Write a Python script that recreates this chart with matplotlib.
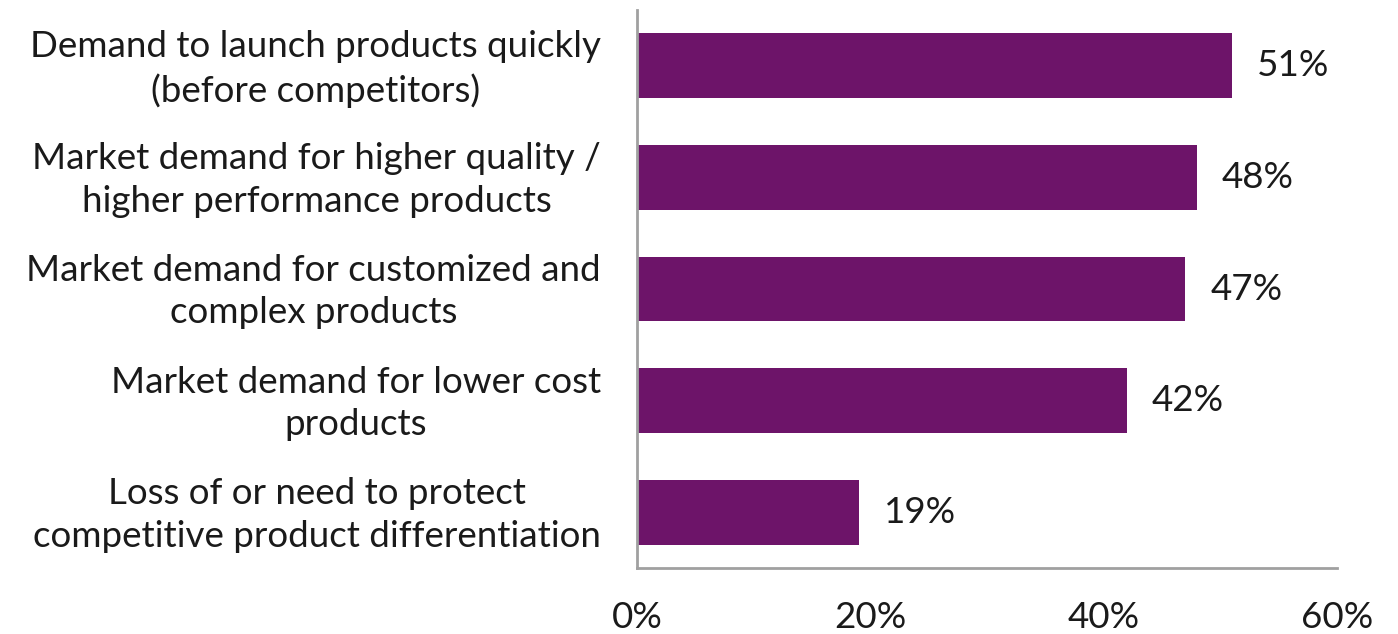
import matplotlib
matplotlib.use("Agg")
import matplotlib.pyplot as plt
import matplotlib.transforms as mtransforms

categories = [
    "Demand to launch products quickly\n(before competitors)",
    "Market demand for higher quality /\nhigher performance products",
    "Market demand for customized and\ncomplex products",
    "Market demand for lower cost\nproducts",
    "Loss of or need to protect\ncompetitive product differentiation",
]
values = [51, 48, 47, 42, 19]
xticks = [0, 20, 40, 60]
xtick_labels = ["0%", "20%", "40%", "60%"]

plt.rcParams['font.family'] = ['Lato', 'DejaVu Sans']
bar_color = "#6D1469"
text_color = "#1a1a1a"
fs = 26.5

fig = plt.figure(figsize=(13.98, 6.34), dpi=100)
ax = fig.add_axes([637/1398, 1-568/634, 700/1398, 558/634])

y = list(range(len(categories)))
ax.barh(y, values, height=0.58, color=bar_color)
ax.set_ylim(len(categories)-0.5, -0.5)
ax.set_xlim(0, 60)
ax.set_yticks(y)
ax.set_yticklabels(categories, fontsize=fs, color=text_color, multialignment='center', linespacing=1.35)
ax.set_xticks(xticks)
ax.set_xticklabels(xtick_labels, fontsize=fs, color=text_color)
ax.tick_params(axis='y', length=0, pad=26)
ax.tick_params(axis='x', length=0, pad=24)

shift = mtransforms.ScaledTranslation(0, 5/100, fig.dpi_scale_trans)
for lbl in ax.get_yticklabels():
    lbl.set_transform(lbl.get_transform() + shift)

for s in ['top', 'right']:
    ax.spines[s].set_visible(False)
for s in ['left', 'bottom']:
    ax.spines[s].set_color('#A0A0A0')
    ax.spines[s].set_linewidth(2)

for yi, v in zip(y, values):
    ax.annotate(f"{v}%", xy=(v, yi), xytext=(18, 0), textcoords='offset points',
                va='center', ha='left', fontsize=fs, color=text_color)

fig.savefig("out.png", dpi=100)
